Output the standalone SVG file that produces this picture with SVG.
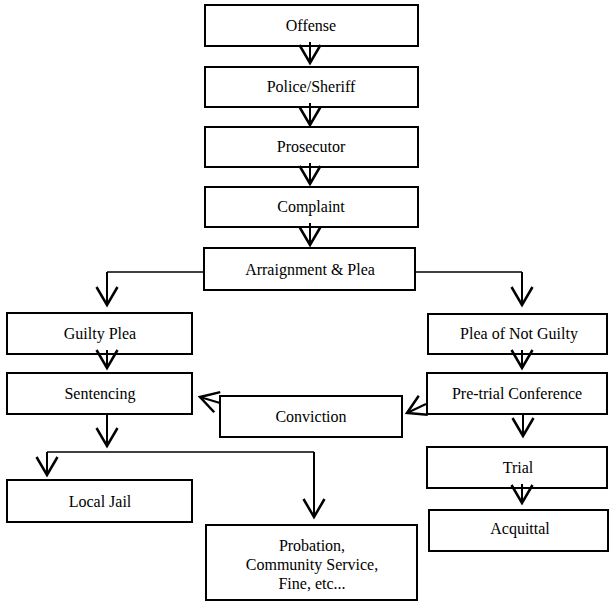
<svg xmlns="http://www.w3.org/2000/svg" width="609" height="602" viewBox="0 0 609 602">
<style>
.box{fill:#fff;stroke:#000;stroke-width:2}
.lbl{font-family:"Liberation Serif","Times New Roman",serif;font-size:16px;fill:#000;text-anchor:middle}
.c{fill:none;stroke:#000;stroke-width:2;marker-end:url(#ah)}
.h{fill:none;stroke:#000;stroke-width:1.5}
</style>
<defs>
<marker id="ah" markerUnits="userSpaceOnUse" viewBox="-20 -12 24 24" refX="0" refY="0" markerWidth="24" markerHeight="24" orient="auto" overflow="visible">
<path d="M-18,-10.5 L0,0 L-18,10.5" fill="none" stroke="#000" stroke-width="2.5"/>
</marker>
</defs>
<rect width="609" height="602" fill="#fff"/>
<g id="offense"><rect class="box" x="205" y="5" width="213" height="41"/><text class="lbl" x="311" y="31">Offense</text></g>
<g id="police"><rect class="box" x="205" y="67" width="213" height="40"/><text class="lbl" x="311" y="92">Police/Sheriff</text></g>
<g id="prosecutor"><rect class="box" x="205" y="127" width="213" height="40"/><text class="lbl" x="311" y="152">Prosecutor</text></g>
<g id="complaint"><rect class="box" x="205" y="187" width="213" height="40"/><text class="lbl" x="311" y="212">Complaint</text></g>
<g id="arraignment"><rect class="box" x="204" y="248" width="211" height="42"/><text class="lbl" x="310" y="275">Arraignment &amp; Plea</text></g>
<g id="guilty"><rect class="box" x="7" y="313" width="185" height="41"/><text class="lbl" x="100" y="339">Guilty Plea</text></g>
<g id="sentencing"><rect class="box" x="7" y="373" width="185" height="41"/><text class="lbl" x="100" y="399">Sentencing</text></g>
<g id="notguilty"><rect class="box" x="428" y="314" width="179" height="40"/><text class="lbl" x="519" y="339">Plea of Not Guilty</text></g>
<g id="pretrial"><rect class="box" x="427" y="373" width="180" height="41"/><text class="lbl" x="517" y="399">Pre-trial Conference</text></g>
<g id="conviction"><rect class="box" x="220" y="396" width="182" height="41"/><text class="lbl" x="311" y="422">Conviction</text></g>
<g id="jail"><rect class="box" x="7" y="480" width="185" height="42"/><text class="lbl" x="100" y="507">Local Jail</text></g>
<g id="probation"><rect class="box" x="206" y="525" width="211" height="75"/><text class="lbl" x="312" y="551">Probation,</text><text class="lbl" x="312" y="570">Community Service,</text><text class="lbl" x="312" y="589">Fine, etc...</text></g>
<g id="trial"><rect class="box" x="427" y="447" width="180" height="41"/><text class="lbl" x="518" y="473">Trial</text></g>
<g id="acquittal"><rect class="box" x="429" y="510" width="179" height="41"/><text class="lbl" x="520" y="534">Acquittal</text></g>
<g id="connectors">
<path class="c" d="M310,42 V63"/>
<path class="c" d="M310,103 V125"/>
<path class="c" d="M310,163 V184"/>
<path class="c" d="M310,223 V245"/>
<path class="h" d="M204,272 H107"/>
<path class="c" d="M107,272 V305"/>
<path class="h" d="M415,272 H522"/>
<path class="c" d="M522,272 V305"/>
<path class="c" d="M107,350 V368"/>
<path class="c" d="M522,350 V368"/>
<path class="c" d="M523,414 V436"/>
<path class="c" d="M522,484 V503"/>
<path class="c" d="M107,414 V446"/>
<path class="h" d="M47,452 H314"/>
<path class="c" d="M47,452 V475"/>
<path class="c" d="M314,452 V517"/>
<path class="c" d="M220,403 L200,397"/>
<path class="c" d="M426,404 L407,413"/>
</g>
</svg>
